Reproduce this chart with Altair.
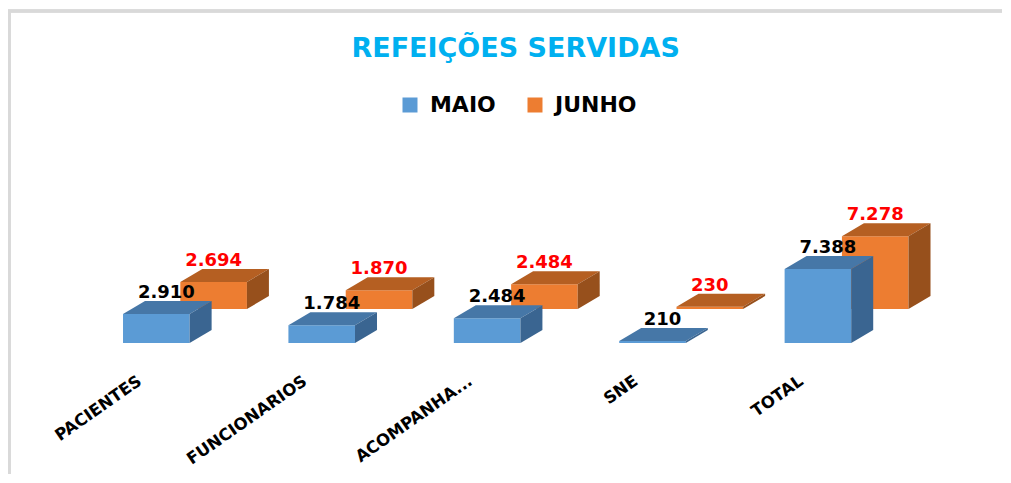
import json
import altair as alt
import pandas as pd

# ---- data ----
categories = ["PACIENTES", "FUNCIONARIOS", "ACOMPANHA...", "SNE", "TOTAL"]
maio = [2910, 1784, 2484, 210, 7388]
junho = [2694, 1870, 2484, 230, 7278]
series_names = ["MAIO", "JUNHO"]

# ---- layout / style constants (pixels) ----
PX_IDX = 165.4          # pixels per category step
PX_UNIT = 0.01          # pixels per value unit
X_DOMAIN = [-0.8, 5.0]
W = (X_DOMAIN[1] - X_DOMAIN[0]) * PX_IDX
H = 150
Y_MAX = H / PX_UNIT
BAR_W = 66.6 / PX_IDX
DEPTH_X = 22 / PX_IDX
DEPTH_Y = 13 / PX_UNIT
ROW_X = 57.3 / PX_IDX   # offset of the back row (JUNHO)
ROW_Y = 34 / PX_UNIT
BLUE_LABEL_SHIFT = 10 / PX_IDX

FONT = "DejaVu Sans"
COLORS = {
    "MAIO": {"front": "#5B9BD5", "top": "#4677A7", "side": "#3A6591", "text": "#000000"},
    "JUNHO": {"front": "#ED7D31", "top": "#B55F22", "side": "#97501C", "text": "#FF0000"},
}


def fmt(v):
    return f"{v:,}".replace(",", ".")


front_rows, top_rows, side_rows = [], [], []
for s, vals in (("JUNHO", junho), ("MAIO", maio)):
    sx = ROW_X if s == "JUNHO" else 0.0
    sy = ROW_Y if s == "JUNHO" else 0.0
    for i, (c, v) in enumerate(zip(categories, vals)):
        x0 = i - BAR_W / 2 + sx
        x1 = i + BAR_W / 2 + sx
        base = sy
        top = sy + v
        lx = i + sx + (BLUE_LABEL_SHIFT if s == "MAIO" else 0.0)
        front_rows.append(dict(series=s, cat=c, idx=i, value=v, label=fmt(v),
                               x0=x0, x1=x1, base=base, top=top,
                               lx=lx, ly=top + DEPTH_Y))
        top_rows.append(dict(series=s, idx=i, y=top, xl=x0, xr=x1))
        top_rows.append(dict(series=s, idx=i, y=top + DEPTH_Y, xl=x0 + DEPTH_X, xr=x1 + DEPTH_X))
        side_rows.append(dict(series=s, idx=i, x=x1, ylo=base, yhi=top))
        side_rows.append(dict(series=s, idx=i, x=x1 + DEPTH_X, ylo=base + DEPTH_Y, yhi=top + DEPTH_Y))

front_df = pd.DataFrame(front_rows)
top_df = pd.DataFrame(top_rows)
side_df = pd.DataFrame(side_rows)

xscale = alt.Scale(domain=X_DOMAIN, nice=False, zero=False)
yscale = alt.Scale(domain=[0, Y_MAX], nice=False, zero=False)
label_expr = json.dumps(categories) + "[datum.value]"
xaxis = alt.Axis(values=list(range(len(categories))), labelExpr=label_expr, title=None,
                 domain=False, ticks=False, grid=False, labelAngle=-35, labelAlign="right",
                 labelBaseline="middle", labelFont=FONT, labelFontSize=16.5,
                 labelFontWeight="bold", labelColor="#000000", labelPadding=36,
                 labelOffset=-17, labelOverlap=False, labelBound=False, labelFlush=False)

color_scale = alt.Scale(domain=series_names,
                        range=[COLORS[s]["front"] for s in series_names])

layers = []
# chart border (top and left edges)
layers.append(alt.Chart(front_df).mark_rule(color="#D9D9D9", strokeWidth=2.3).encode(
    x=alt.value(-16), x2=alt.value(1000), y=alt.value(-182)))
layers.append(alt.Chart(front_df).mark_rule(color="#D9D9D9", strokeWidth=2.3).encode(
    x=alt.value(-14.7), y=alt.value(-183), y2=alt.value(300)))

for s in ("JUNHO", "MAIO"):
    c = COLORS[s]
    layers.append(alt.Chart(front_df).transform_filter(alt.datum.series == s).mark_bar(
        strokeWidth=0).encode(
        x=alt.X("x0:Q", scale=xscale, axis=xaxis),
        x2="x1:Q",
        y=alt.Y("base:Q", scale=yscale, axis=None),
        y2="top:Q",
        color=alt.Color("series:N", scale=color_scale, legend=alt.Legend(
            orient="none", legendX=375, legendY=-99, direction="horizontal", title=None,
            symbolType="square", symbolSize=225, symbolStrokeWidth=0,
            labelFont=FONT, labelFontSize=22, labelFontWeight="bold", labelColor="#000000",
            columnPadding=28, labelOffset=9, padding=0)),
    ))
    layers.append(alt.Chart(top_df).transform_filter(alt.datum.series == s).mark_area(
        orient="horizontal", color=c["top"]).encode(
        y=alt.Y("y:Q", scale=yscale, axis=None),
        x=alt.X("xl:Q", scale=xscale, axis=xaxis),
        x2="xr:Q",
        detail="idx:N",
    ))
    layers.append(alt.Chart(side_df).transform_filter(alt.datum.series == s).mark_area(
        orient="vertical", color=c["side"]).encode(
        x=alt.X("x:Q", scale=xscale, axis=xaxis),
        y=alt.Y("ylo:Q", scale=yscale, axis=None),
        y2="yhi:Q",
        detail="idx:N",
    ))

for s in ("JUNHO", "MAIO"):
    layers.append(alt.Chart(front_df).transform_filter(alt.datum.series == s).mark_text(
        font=FONT, fontSize=18, fontWeight="bold", baseline="alphabetic", align="center",
        dy=-3, color=COLORS[s]["text"]).encode(
        x=alt.X("lx:Q", scale=xscale, axis=xaxis),
        y=alt.Y("ly:Q", scale=yscale, axis=None),
        text="label:N",
    ))

chart = alt.layer(*layers).properties(
    width=W, height=H,
    title=alt.TitleParams("REFEIÇÕES SERVIDAS", font=FONT, fontSize=27, fontWeight="bold",
                          color="#00B0F0", anchor="middle", baseline="alphabetic",
                          offset=0, dy=75, dx=12),
    padding={"left": 16, "top": 185, "right": 19, "bottom": 131},
    autosize="none",
    background="white",
).configure_view(strokeWidth=0, stroke="transparent")

chart.save("out.html", embed_options={"renderer": "svg", "actions": False})
